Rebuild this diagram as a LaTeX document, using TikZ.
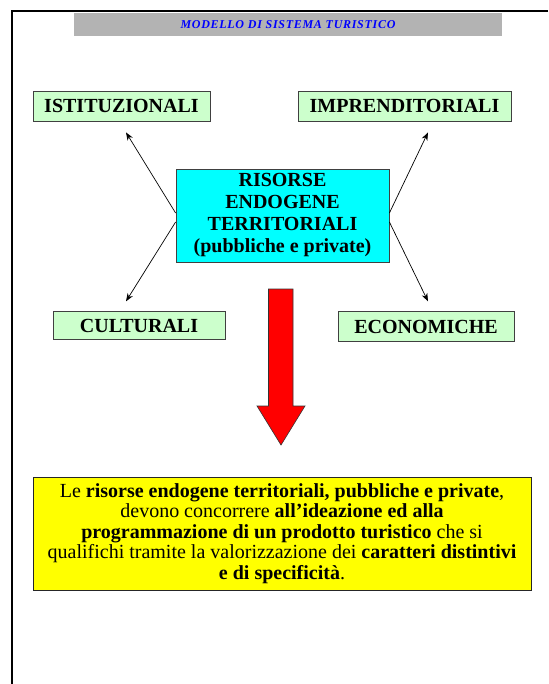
\documentclass[tikz,border=0pt]{standalone}
\usepackage{fontspec}
\setmainfont{Liberation Serif}
\usepackage[HTML]{xcolor}
\usetikzlibrary{positioning, arrows, arrows.meta}

\definecolor{verdino}{HTML}{CCFFCC}
\definecolor{ciano}{HTML}{00FFFF}
\definecolor{giallo}{HTML}{FFFF00}
\definecolor{rosso}{HTML}{FF0000}
\definecolor{grigio}{HTML}{B3B3B3}
\definecolor{blu}{HTML}{0000FF}

\begin{document}
\begin{tikzpicture}[x=1pt, y=-1pt,
    settore/.style={draw=black!75, fill=verdino, line width=0.8pt, inner sep=0pt,
        minimum height=30pt, font=\bfseries\fontsize{20}{22}\selectfont},
    freccia/.style={-{Stealth[length=8pt, width=6pt]}, line width=0.7pt}]
\useasboundingbox (0,0) rectangle (548,684);
\draw[line width=2pt] (548,11.5) -- (12,11.5) -- (12,684);

\node[fill=grigio, minimum width=428pt, minimum height=23.5pt, inner sep=0pt, text=blu,
    font=\bfseries\itshape\fontsize{12}{14}\selectfont\addfontfeature{LetterSpace=6}] (titolo) at (288,24.5) {MODELLO DI SISTEMA TURISTICO};

\node[settore, minimum width=177pt] (ist) at (121.5,106) {ISTITUZIONALI};
\node[settore, minimum width=213pt] (imp) at (404.5,106) {IMPRENDITORIALI};
\node[settore, minimum width=172pt, minimum height=27.5pt] (cul) at (139,325.5) {CULTURALI};
\node[settore, minimum width=176pt, minimum height=29.5pt] (eco) at (426,326.5) {ECONOMICHE};

\node[settore, fill=ciano, minimum width=213pt, minimum height=93pt, align=center] (ris) at (282.5,215.5) {
    RISORSE\\ENDOGENE\\TERRITORIALI\\(pubbliche e private)
};

% frecce verso i settori
\draw[freccia] ([yshift=2.5pt]ris.west) -- ([xshift=4.5pt, yshift=-11pt]ist.south);
\draw[freccia] ([yshift=-6.5pt]ris.west) -- ([xshift=-13pt, yshift=10pt]cul.north);
\draw[freccia] ([yshift=2.5pt]ris.east) -- ([xshift=23.5pt, yshift=-11pt]imp.south);
\draw[freccia] ([yshift=-6.5pt]ris.east) -- ([xshift=2pt, yshift=10pt]eco.north);

% freccia rossa
\draw[draw=black!80, fill=rosso, line width=0.6pt] (268.5,289) -- (293,289) -- (293,406) -- (305,406)
    -- (281,445) -- (257,406) -- (268.5,406) -- cycle;

\node[draw=black!85, fill=giallo, line width=0.8pt, inner sep=0pt, minimum width=498pt, minimum height=113pt,
    align=center, font=\fontsize{20}{20.5}\selectfont] (nota) at (282,533.5) {
    Le \textbf{risorse endogene territoriali, pubbliche e private},\\
    devono concorrere \textbf{all’ideazione ed alla}\\
    \textbf{programmazione di un prodotto turistico} che si\\
    qualifichi tramite la valorizzazione dei \textbf{caratteri distintivi}\\
    \textbf{e di specificità}.
};

\end{tikzpicture}
\end{document}
